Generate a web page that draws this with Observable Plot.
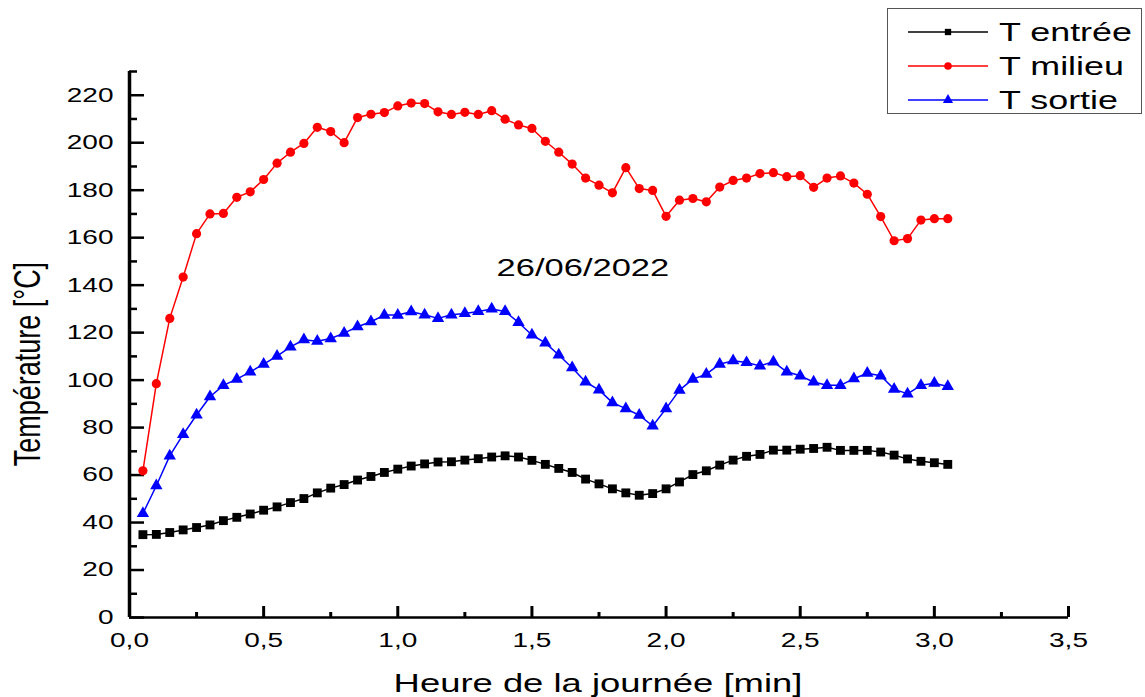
<!DOCTYPE html>
<html><head><meta charset="utf-8">
<script src="https://cdn.jsdelivr.net/npm/d3@7"></script>
<script src="https://cdn.jsdelivr.net/npm/@observablehq/plot@0.6"></script>
<style>
body{margin:0;background:#fff;font-family:"Liberation Sans",Arial,sans-serif;}
#wrap{position:relative;width:1145px;height:697px;overflow:hidden;}
#legend{position:absolute;left:887px;top:8px;width:255px;height:106px;border:1.5px solid #555;box-sizing:border-box;background:#fff;}
.row{position:absolute;left:0;height:34px;width:250px;}
.row svg{position:absolute;left:18px;top:0;}
.row span{position:absolute;left:111px;top:0;line-height:34px;font-size:26px;color:#000;transform:scaleX(1.38);transform-origin:left center;white-space:nowrap;}
</style></head><body><div id="wrap"><div id="legend"></div></div>
<script>
const hours = [0.05,0.10,0.15,0.20,0.25,0.30,0.35,0.40,0.45,0.50,0.55,0.60,0.65,0.70,0.75,0.80,0.85,0.90,0.95,1.00,
  1.05,1.10,1.15,1.20,1.25,1.30,1.35,1.40,1.45,1.50,1.55,1.60,1.65,1.70,1.75,1.80,1.85,1.90,1.95,2.00,
  2.05,2.10,2.15,2.20,2.25,2.30,2.35,2.40,2.45,2.50,2.55,2.60,2.65,2.70,2.75,2.80,2.85,2.90,2.95,3.00,3.05];
const tEntree = [34.9,35.0,35.8,36.9,37.9,39.0,40.8,42.2,43.6,45.2,46.6,48.4,50.1,52.5,54.5,56.0,57.9,59.4,61.1,62.5,
  63.8,64.7,65.5,65.6,66.3,66.9,67.6,68.1,67.6,66.2,64.5,62.8,61.1,58.3,56.3,54.2,52.5,51.5,52.2,54.2,
  57.1,60.2,61.8,64.2,66.3,67.9,68.7,70.5,70.5,70.9,71.2,71.7,70.4,70.4,70.4,69.7,68.4,66.8,65.8,65.2,64.5];
const tMilieu = [61.8,98.5,126.0,143.4,161.7,170.0,170.2,177.0,179.3,184.5,191.4,196.0,199.7,206.5,204.7,200.0,210.6,212.0,212.7,215.5,
  216.7,216.5,213.0,211.9,212.8,211.9,213.5,209.9,207.5,206.0,200.6,196.0,191.0,185.1,182.1,178.9,189.5,180.7,179.9,169.0,
  175.8,176.5,175.1,181.3,184.1,185.1,187.0,187.4,185.7,186.1,181.2,185.1,186.0,183.0,178.3,168.9,158.7,159.6,167.4,168.0,168.0];
const tSortie = [43.8,55.5,68.1,77.1,85.3,93.0,97.8,100.4,103.5,106.7,110.1,114.0,117.0,116.4,117.5,119.8,122.5,124.6,127.4,127.4,
  128.8,127.5,126.0,127.5,128.1,128.9,130.0,128.9,124.3,119.0,115.7,110.6,105.2,99.2,95.9,90.5,88.0,85.2,80.7,88.0,
  95.8,100.4,102.5,106.7,108.2,107.4,106.0,107.7,103.5,101.8,99.2,97.8,97.8,100.6,102.9,101.8,96.2,94.2,97.8,98.7,97.3];
const seriesNames = ["T entrée","T milieu","T sortie"];
const seriesColors = ["#000000","#ff0000","#0000ff"];
const seriesSymbols = ["square","circle","triangle"];
const xMajor = [0,0.5,1.0,1.5,2.0,2.5,3.0,3.5];
const xMinor = [0.25,0.75,1.25,1.75,2.25,2.75,3.25];
const yMajor = [0,20,40,60,80,100,120,140,160,180,200,220];
const yMinor = [10,30,50,70,90,110,130,150,170,190,210,230];
const annotation = [{x:1.69, y:147, text:"26/06/2022"}];
const xTitle = "Heure de la journée [min]";
const yTitle = "Température [°C]";

const allSeries = [tEntree, tMilieu, tSortie];
const rows = [];
allSeries.forEach((vals, s) => vals.forEach((v, i) => rows.push({hour: hours[i], value: v, series: seriesNames[s]})));

const seriesMarks = seriesNames.flatMap((name, s) => {
  const d = rows.filter(r => r.series === name);
  return [
    Plot.line(d, {x: "hour", y: "value", stroke: seriesColors[s], strokeWidth: 1.5}),
    Plot.dot(d, {x: "hour", y: "value", symbol: seriesSymbols[s], fill: seriesColors[s], stroke: "none",
                 r: s === 0 ? 5 : s === 1 ? 4.6 : 4.6})
  ];
});

const fmtX = d => d.toFixed(1).replace(".", ",");
const plot = Plot.plot({
  width: 1145, height: 697,
  marginLeft: 129, marginRight: 77, marginTop: 71, marginBottom: 80,
  style: {fontFamily: "Liberation Sans, Arial, sans-serif", background: "#fff", color: "#000", overflow: "visible"},
  x: {domain: [0, 3.5]},
  y: {domain: [0, 230]},
  marks: [
    Plot.axisX({ticks: xMajor, tickSize: 0, tickPadding: 15, fontSize: 20, tickFormat: fmtX, label: null}),
    Plot.axisX({ticks: xMajor, tickSize: -11, strokeWidth: 3, tickFormat: () => "", label: null}),
    Plot.axisX({ticks: xMinor, tickSize: -5, strokeWidth: 3, tickFormat: () => "", label: null}),
    Plot.axisY({ticks: yMajor, tickSize: 0, tickPadding: 16, fontSize: 20, tickFormat: d => String(d), label: null}),
    Plot.axisY({ticks: yMajor, tickSize: -15, strokeWidth: 2.5, tickFormat: () => "", label: null}),
    Plot.axisY({ticks: yMinor, tickSize: -8, strokeWidth: 2.5, tickFormat: () => "", label: null}),
    Plot.ruleX([0], {stroke: "#000", strokeWidth: 3.5}),
    Plot.ruleY([0], {stroke: "#000", strokeWidth: 2.5}),
    ...seriesMarks,
    Plot.text(annotation, {x: "x", y: "y", text: "text", fontSize: 23, fill: "#000"})
  ]
});
document.getElementById("wrap").prepend(plot);

const svg = d3.select(plot);
// titles
svg.append("text").attr("class", "xtitle")
  .attr("x", 598).attr("y", 692).attr("text-anchor", "middle")
  .attr("font-size", 26).attr("fill", "#000").text(xTitle);
svg.append("text")
  .attr("transform", "translate(40,364) scale(1.4,1) rotate(-90)")
  .attr("text-anchor", "middle").attr("font-size", 27).attr("fill", "#000").text(yTitle);

// horizontal stretch of the horizontal texts, as in the reference
plot.querySelectorAll("text").forEach(t => {
  if (t.getAttribute("transform") && t.getAttribute("transform").includes("rotate")) return;
  const len = t.getComputedTextLength ? t.getComputedTextLength() : 0;
  if (len > 0) {
    const k = t.textContent === "26/06/2022" ? 1.5 : 1.4;
    t.setAttribute("textLength", len * k);
    t.setAttribute("lengthAdjust", "spacingAndGlyphs");
  }
});

// legend
const legend = document.getElementById("legend");
const tops = [6, 40, 74];
seriesNames.forEach((name, s) => {
  const row = document.createElement("div");
  row.className = "row";
  row.style.top = tops[s] + "px";
  const sym = d3.symbol(s === 0 ? d3.symbolSquare : s === 1 ? d3.symbolCircle : d3.symbolTriangle, s === 0 ? 40 : s === 1 ? 45 : 45)();
  row.innerHTML = `<svg width="84" height="34"><line x1="2" x2="82" y1="17" y2="17" stroke="${seriesColors[s]}" stroke-width="1.5"/>
    <path d="${sym}" transform="translate(42,17)" fill="${seriesColors[s]}"/></svg><span>${name}</span>`;
  legend.appendChild(row);
});
</script>
</body></html>
